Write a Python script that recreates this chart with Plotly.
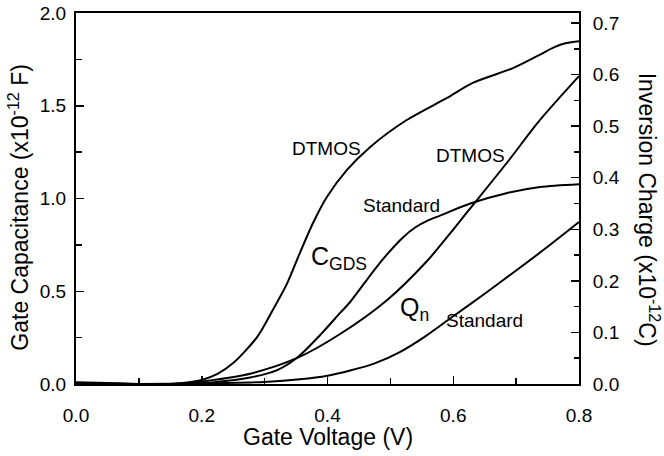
import plotly.graph_objects as go

# C_GDS (left axis, x1e-12 F)
v_cgds_dtmos = [0.0, 0.05, 0.10, 0.14, 0.17, 0.20, 0.225, 0.25, 0.288, 0.313, 0.336, 0.356, 0.377, 0.399, 0.431, 0.468, 0.526, 0.59, 0.631, 0.695, 0.738, 0.76, 0.78, 0.80]
c_cgds_dtmos = [0.01, 0.005, 0.0, 0.0, 0.006, 0.022, 0.055, 0.113, 0.253, 0.399, 0.544, 0.706, 0.868, 1.008, 1.154, 1.278, 1.423, 1.542, 1.623, 1.703, 1.776, 1.815, 1.838, 1.848]

v_cgds_std = [0.0, 0.10, 0.17, 0.22, 0.277, 0.32, 0.351, 0.39, 0.42, 0.436, 0.483, 0.52, 0.54, 0.56, 0.579, 0.627, 0.686, 0.738, 0.80]
c_cgds_std = [0.005, 0.0, 0.002, 0.01, 0.035, 0.075, 0.14, 0.27, 0.383, 0.442, 0.652, 0.79, 0.845, 0.882, 0.908, 0.973, 1.03, 1.062, 1.077]

# Q_n (right axis, x1e-12 C)
v_qn_dtmos = [0.0, 0.10, 0.17, 0.22, 0.277, 0.351, 0.42, 0.495, 0.558, 0.595, 0.624, 0.686, 0.738, 0.80]
q_qn_dtmos = [0.002, 0.0, 0.001, 0.008, 0.02, 0.05, 0.097, 0.163, 0.238, 0.292, 0.336, 0.43, 0.512, 0.597]

v_qn_std = [0.0, 0.10, 0.20, 0.30, 0.356, 0.40, 0.436, 0.475, 0.515, 0.555, 0.595, 0.65, 0.70, 0.75, 0.80]
q_qn_std = [0.0, 0.0, 0.001, 0.004, 0.009, 0.016, 0.026, 0.04, 0.062, 0.092, 0.127, 0.175, 0.22, 0.266, 0.314]

x_range = [0.0, 0.8]
y_left_range = [0.0, 2.0]
y_right_range = [0.0, 0.7194]

FONT = "Liberation Sans, Arial, Helvetica, sans-serif"
line = dict(color="black", width=2, shape="spline", smoothing=0.8)

fig = go.Figure()
fig.add_trace(go.Scatter(x=v_cgds_dtmos, y=c_cgds_dtmos, mode="lines", line=line, yaxis="y"))
fig.add_trace(go.Scatter(x=v_cgds_std, y=c_cgds_std, mode="lines", line=line, yaxis="y"))
fig.add_trace(go.Scatter(x=v_qn_dtmos, y=q_qn_dtmos, mode="lines", line=line, yaxis="y2"))
fig.add_trace(go.Scatter(x=v_qn_std, y=q_qn_std, mode="lines", line=line, yaxis="y2"))

labels = [
    (0.399, 1.272, "DTMOS", 19),
    (0.627, 1.234, "DTMOS", 19),
    (0.518, 0.960, "Standard", 19),
    (0.418, 0.679, "C<sub>GDS</sub>", 25),
    (0.539, 0.404, "Q<sub>n</sub>", 25),
    (0.650, 0.345, "Standard", 19),
]
annotations = []
for x, y, t, s in labels:
    annotations.append(dict(x=x, y=y, xref="x", yref="y", text=t, showarrow=False,
                            xanchor="center", yanchor="middle",
                            font=dict(family=FONT, size=s, color="black")))

annotations.append(dict(x=-0.114, y=0.477, xref="paper", yref="paper", showarrow=False,
                        xanchor="center", yanchor="middle",
                        text="Gate Capacitance (x10<sup>-12</sup> F)", textangle=-90,
                        font=dict(family=FONT, size=23, color="black")))
annotations.append(dict(x=1.139, y=0.47, xref="paper", yref="paper", showarrow=False,
                        xanchor="center", yanchor="middle",
                        text="Inversion Charge (x10<sup>-12</sup>C)", textangle=90,
                        font=dict(family=FONT, size=23, color="black")))
annotations.append(dict(x=0.5, y=-0.143, xref="paper", yref="paper", showarrow=False,
                        xanchor="center", yanchor="middle",
                        text="Gate Voltage (V)",
                        font=dict(family=FONT, size=23, color="black")))

fig.update_layout(
    width=664, height=456,
    margin=dict(l=76, r=85, t=13, b=72),
    paper_bgcolor="white", plot_bgcolor="white",
    showlegend=False,
    font=dict(family=FONT, size=19, color="black"),
    annotations=annotations,
    xaxis=dict(range=x_range, dtick=0.2, tickformat=".1f", ticks="inside", ticklen=8,
               tickwidth=1.5, tickcolor="black", showline=True, linecolor="black", linewidth=2,
               mirror=True, showgrid=False, zeroline=False, ticklabelstandoff=13, automargin=False,
               ticklabeloverflow="allow",
               minor=dict(dtick=0.1, ticks="inside", ticklen=6, tickcolor="black", tickwidth=1.5)),
    yaxis=dict(range=y_left_range, dtick=0.5, tickformat=".1f", ticks="inside", ticklen=8,
               tickwidth=1.5, tickcolor="black", showline=True, linecolor="black", linewidth=2,
               showgrid=False, zeroline=False, ticklabelstandoff=4, automargin=False,
               ticklabeloverflow="allow",
               minor=dict(dtick=0.25, ticks="inside", ticklen=6, tickcolor="black", tickwidth=1.5)),
    yaxis2=dict(range=y_right_range, dtick=0.1, tickformat=".1f", ticks="inside", ticklen=8,
                tickwidth=1.5, tickcolor="black", showline=True, linecolor="black", linewidth=2,
                overlaying="y", side="right", showgrid=False, zeroline=False, ticklabelstandoff=8,
                automargin=False, ticklabeloverflow="allow",
                minor=dict(dtick=0.05, ticks="inside", ticklen=5, tickcolor="black", tickwidth=1.5)),
)

fig.write_html("out.html", config={"displayModeBar": False, "staticPlot": True},
               post_script="document.body.style.margin='0';")
